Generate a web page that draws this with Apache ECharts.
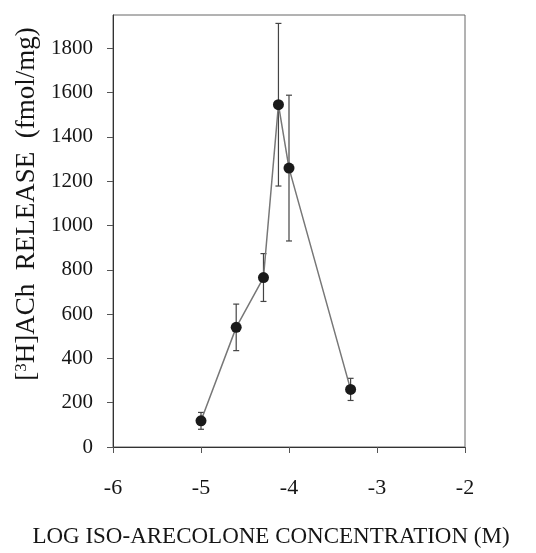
<!DOCTYPE html>
<html>
<head>
<meta charset="utf-8">
<script src="https://cdn.jsdelivr.net/npm/echarts@6/dist/echarts.min.js"></script>
<style>
html,body{margin:0;padding:0;background:#fff;}
#chart{width:536px;height:553px;}
</style>
</head>
<body>
<div id="chart"></div>
<script>
// Data
const logConc = [-5.0, -4.6, -4.29, -4.12, -4.0, -3.3];
const release = [118, 540, 765, 1545, 1259, 260];
const sem = [38, 105, 108, 367, 329, 50];
const xTicks = [-6, -5, -4, -3, -2];
const yTicks = [0, 200, 400, 600, 800, 1000, 1200, 1400, 1600, 1800];

const chart = echarts.init(document.getElementById('chart'));
const font = '"Liberation Serif", "DejaVu Serif", serif';

const points = logConc.map((x, i) => [x, release[i]]);
const errData = logConc.map((x, i) => [x, release[i] - sem[i], release[i] + sem[i]]);

chart.setOption({
  animation: false,
  backgroundColor: '#ffffff',
  grid: { left: 113, top: 15, right: 71, bottom: 103.5, show: true, borderColor: '#666', borderWidth: 1 },
  xAxis: {
    type: 'value', min: -6, max: -2, interval: 1,
    axisLine: { show: true, onZero: false, lineStyle: { color: '#333', width: 1 } },
    axisTick: { show: true, length: 6, inside: false, lineStyle: { color: '#555' }, customValues: xTicks },
    axisLabel: { margin: 30, color: '#151515', fontFamily: font, fontSize: 22, customValues: xTicks, formatter: v => String(v) },
    splitLine: { show: false },
    name: 'LOG ISO-ARECOLONE CONCENTRATION (M)',
    nameLocation: 'middle', nameGap: 78,
    nameTextStyle: { fontFamily: font, fontSize: 23, color: '#151515', padding: [0, 36, 0, 0] }
  },
  yAxis: {
    type: 'value', min: 0, max: 1950,
    axisLine: { show: true, lineStyle: { color: '#333', width: 1 } },
    axisTick: { show: true, length: 6, inside: false, lineStyle: { color: '#555' }, customValues: yTicks },
    axisLabel: { margin: 20, color: '#151515', fontFamily: font, fontSize: 21, customValues: yTicks, formatter: v => String(v) },
    splitLine: { show: false },
    name: '{b|[}{s|3}{b|H]ACh  RELEASE  (fmol/mg)}',
    nameLocation: 'middle', nameGap: 54, nameRotate: 90,
    nameTextStyle: {
      fontFamily: font, fontSize: 27, color: '#151515', padding: [0, 0, 0, 54],
      rich: {
        b: { fontFamily: font, fontSize: 27, color: '#151515' },
        s: { fontFamily: font, fontSize: 17, color: '#151515', verticalAlign: 'top', padding: [0, 0, 10, 0] }
      }
    }
  },
  series: [
    {
      type: 'custom',
      data: errData,
      renderItem: function (params, api) {
        const x = api.value(0);
        const lo = api.coord([x, api.value(1)]);
        const hi = api.coord([x, api.value(2)]);
        const cap = 3;
        const style = { stroke: '#444', lineWidth: 1.2 };
        return {
          type: 'group',
          children: [
            { type: 'line', shape: { x1: lo[0], y1: lo[1], x2: hi[0], y2: hi[1] }, style: style },
            { type: 'line', shape: { x1: hi[0] - cap, y1: hi[1], x2: hi[0] + cap, y2: hi[1] }, style: style },
            { type: 'line', shape: { x1: lo[0] - cap, y1: lo[1], x2: lo[0] + cap, y2: lo[1] }, style: style }
          ]
        };
      },
      z: 2
    },
    {
      type: 'line',
      data: points,
      symbol: 'circle',
      symbolSize: 11,
      lineStyle: { color: '#777', width: 1.5 },
      itemStyle: { color: '#1a1a1a' },
      z: 3
    }
  ]
});
</script>
</body>
</html>
